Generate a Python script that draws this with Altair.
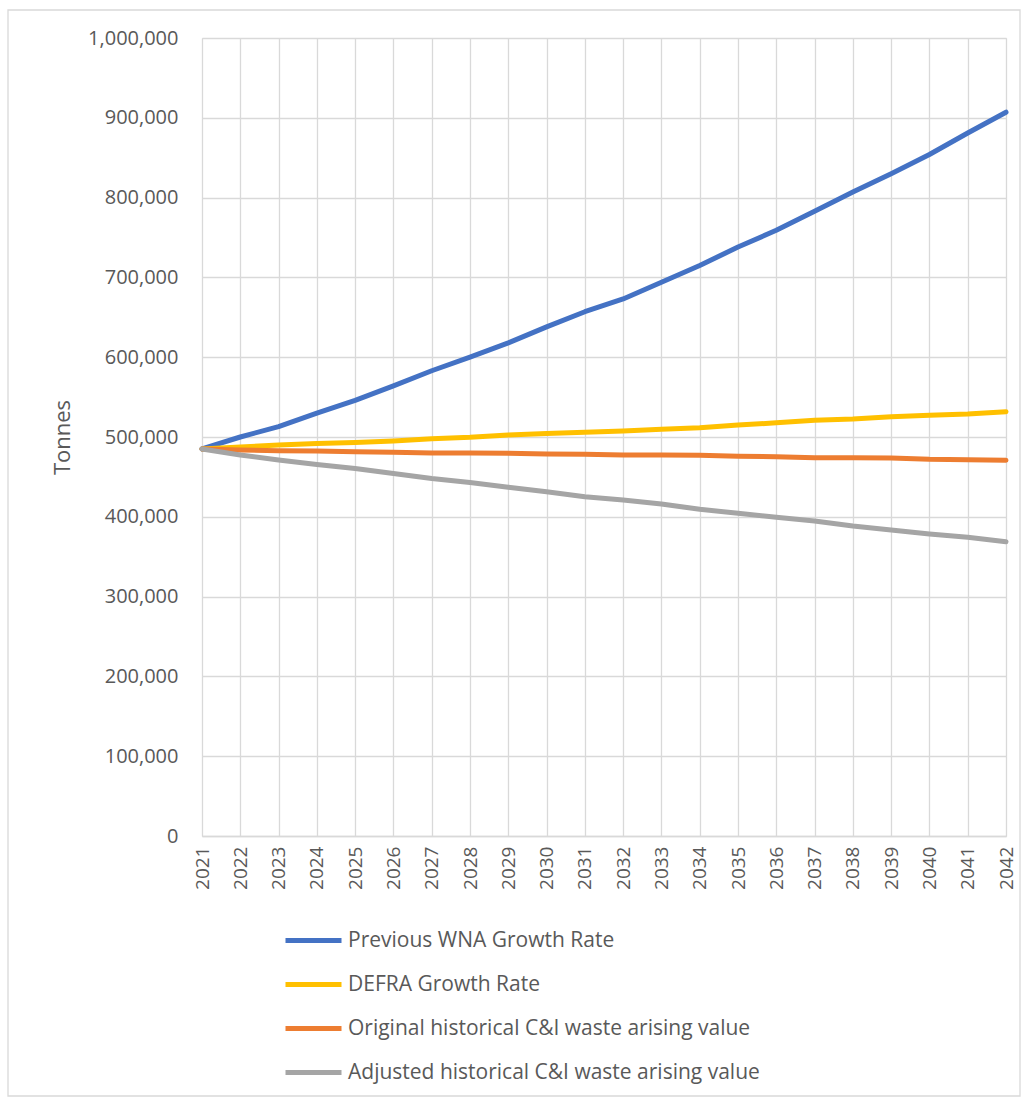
import altair as alt
import pandas as pd

years = list(range(2021, 2043))
series_names = [
    "Previous WNA Growth Rate",
    "DEFRA Growth Rate",
    "Original historical C&I waste arising value",
    "Adjusted historical C&I waste arising value",
]
previous_wna = [485000, 500000, 513000, 530000, 546000, 564000, 583000, 600000, 618000, 638000, 657000,
                673000, 694000, 715000, 738000, 759000, 783000, 807000, 830000, 854000, 881000, 907000]
defra = [485000, 487500, 490000, 492000, 493000, 495000, 497800, 499600, 502500, 504500, 505900,
         507500, 509600, 511700, 515000, 517800, 521000, 522500, 525500, 527200, 528800, 531700]
original = [485000, 483700, 482900, 482400, 481600, 480800, 480000, 480000, 479500, 478700, 478300,
            477400, 477300, 477200, 476000, 475300, 474000, 474000, 473700, 472000, 471600, 470800]
adjusted = [485000, 477400, 471200, 465600, 460600, 454300, 448000, 443000, 437000, 431400, 425200,
            421000, 416000, 409400, 404400, 399400, 394700, 388500, 383500, 378400, 374300, 368800]
colors = ["#4472C4", "#FFC000", "#ED7D31", "#A5A5A5"]
y_ticks = [0, 100000, 200000, 300000, 400000, 500000, 600000, 700000, 800000, 900000, 1000000]

rows = []
for name, vals in zip(series_names, [previous_wna, defra, original, adjusted]):
    for yr, v in zip(years, vals):
        rows.append({"Year": str(yr), "Series": name, "Tonnes": v})
df = pd.DataFrame(rows)

FONT = "Open Sans"
TXT = "#595959"
GRID = "#D9D9D9"

lines = alt.Chart(df).mark_line(strokeWidth=5, strokeCap="round", strokeJoin="round").encode(
    x=alt.X("Year:O", scale=alt.Scale(type="point", padding=0),
            axis=alt.Axis(title=None, labelAngle=-90, labelFontSize=19, labelColor=TXT, labelFont=FONT,
                          labelPadding=10, ticks=False, grid=True, gridColor=GRID, gridWidth=1.3,
                          domainColor=GRID, domainWidth=1.3)),
    y=alt.Y("Tonnes:Q", scale=alt.Scale(domain=[0, 1000000], nice=False),
            axis=alt.Axis(values=y_ticks, format=",d", title="Tonnes", titleFontSize=22, titleFont=FONT,
                          titleColor=TXT, titleFontWeight="normal", titleAngle=-90, titleX=-140, titleY=399,
                          titleAlign="center", titleBaseline="middle",
                          labelFontSize=20, labelColor=TXT, labelFont=FONT, labelPadding=24, ticks=False,
                          domain=False, grid=True, gridColor=GRID, gridWidth=1.3)),
    color=alt.Color("Series:N", scale=alt.Scale(domain=series_names, range=colors),
                    sort=series_names,
                    legend=alt.Legend(title=None, orient="none", legendX=81, legendY=872, direction="vertical",
                                      symbolType="stroke", symbolSize=3136, symbolStrokeWidth=5,
                                      labelFontSize=21, labelFont=FONT, labelColor=TXT, labelOffset=4,
                                      rowPadding=3, padding=0, labelLimit=700)),
    order=alt.Order("Series:N"),
)

frame = alt.Chart(alt.Data(values=[{}])).mark_rect(fill=None, stroke=GRID, strokeWidth=1.3).encode(
    x=alt.value(-194), x2=alt.value(818), y=alt.value(-28), y2=alt.value(1058)
)

chart = alt.layer(frame, lines).properties(
    width=804, height=798,
    padding={"left": 202, "top": 38, "right": 16, "bottom": 264},
    autosize=alt.AutoSizeParams(type="none"),
).configure_view(stroke=None).configure(background="white")

chart.save("out.html", embed_options={"renderer": "svg", "actions": False})
